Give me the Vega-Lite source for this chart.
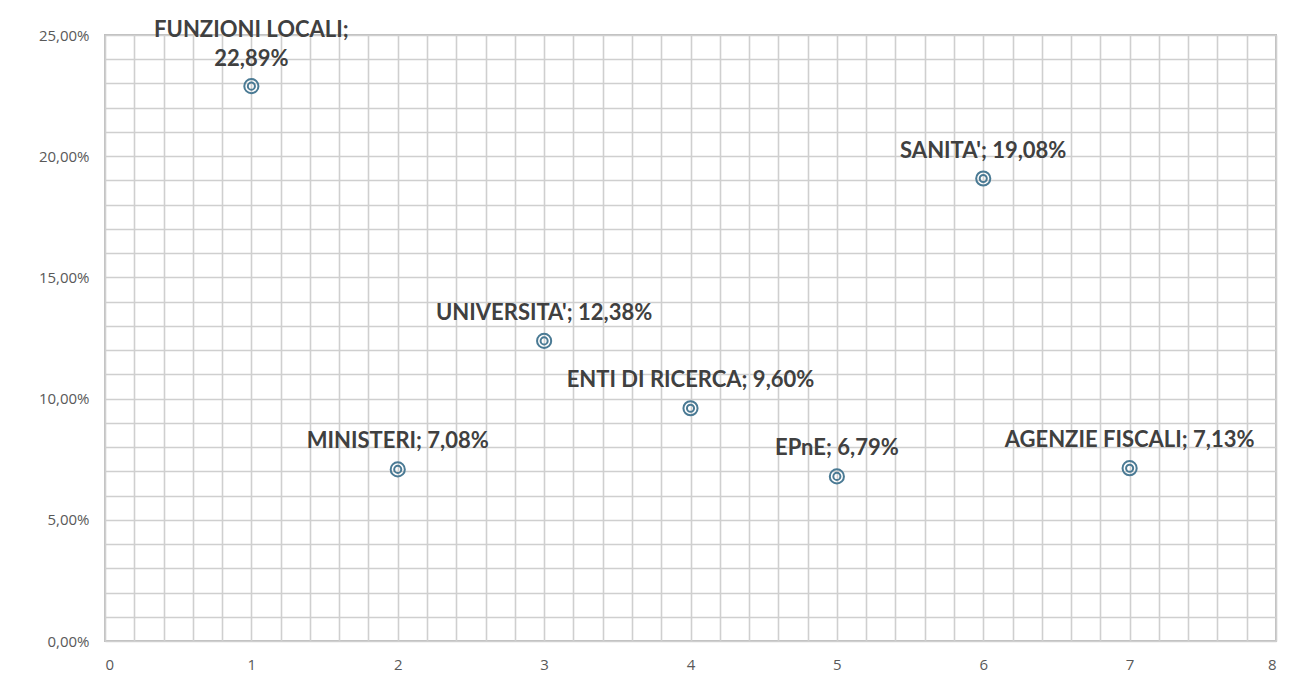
{
  "$schema": "https://vega.github.io/schema/vega-lite/v6.json",
  "width": 1171,
  "height": 606,
  "autosize": {"type": "none"},
  "padding": {"left": 105, "top": 35, "right": 14, "bottom": 42},
  "background": "white",
  "config": {
    "locale": {"number": {"decimal": ",", "thousands": ".", "grouping": [3], "currency": ["€", ""]}},
    "view": {"stroke": "#bfbfbf", "strokeWidth": 2},
    "axis": {"gridColor": "#cfcfcf", "gridWidth": 1.6, "domain": false, "ticks": false, "labelColor": "#595959", "labelFont": "Open Sans", "labelFontSize": 15, "title": null, "labelOverlap": false}
  },
  "data": {"values": [
    {"x": 1, "y": 0.2289, "label": "FUNZIONI LOCALI;\n22,89%", "lines": 2},
    {"x": 2, "y": 0.0708, "label": "MINISTERI; 7,08%", "lines": 1},
    {"x": 3, "y": 0.1238, "label": "UNIVERSITA'; 12,38%", "lines": 1},
    {"x": 4, "y": 0.096, "label": "ENTI DI RICERCA; 9,60%", "lines": 1},
    {"x": 5, "y": 0.0679, "label": "EPnE; 6,79%", "lines": 1},
    {"x": 6, "y": 0.1908, "label": "SANITA'; 19,08%", "lines": 1},
    {"x": 7, "y": 0.0713, "label": "AGENZIE FISCALI; 7,13%", "lines": 1}
  ]},
  "encoding": {
    "x": {"field": "x", "type": "quantitative", "scale": {"domain": [0, 8], "nice": false},
      "axis": {"values": [0,0.2,0.4,0.6,0.8,1,1.2,1.4,1.6,1.8,2,2.2,2.4,2.6,2.8,3,3.2,3.4,3.6,3.8,4,4.2,4.4,4.6,4.8,5,5.2,5.4,5.6,5.8,6,6.2,6.4,6.6,6.8,7,7.2,7.4,7.6,7.8,8],
        "labelExpr": "abs(datum.value - round(datum.value)) < 0.001 ? format(datum.value, 'd') : ''", "labelPadding": 16}},
    "y": {"field": "y", "type": "quantitative", "scale": {"domain": [0, 0.25], "nice": false},
      "axis": {"values": [0,0.01,0.02,0.03,0.04,0.05,0.06,0.07,0.08,0.09,0.1,0.11,0.12,0.13,0.14,0.15,0.16,0.17,0.18,0.19,0.2,0.21,0.22,0.23,0.24,0.25],
        "labelExpr": "abs(datum.value*20 - round(datum.value*20)) < 0.001 ? format(datum.value, '.2%') : ''", "labelPadding": 16}}
  },
  "layer": [
    {"mark": {"type": "point", "shape": "circle", "filled": false, "size": 200, "stroke": "#4a7a94", "strokeWidth": 2, "opacity": 1}},
    {"mark": {"type": "point", "shape": "circle", "filled": false, "size": 50, "stroke": "#4a7a94", "strokeWidth": 2, "opacity": 1}},
    {"transform": [{"filter": "datum.lines == 1"}],
      "mark": {"type": "text", "baseline": "bottom", "align": "center", "dy": -16, "font": "Lato", "fontWeight": "bold", "fontSize": 22, "fill": "#404040"},
      "encoding": {"text": {"field": "label"}}},
    {"transform": [{"filter": "datum.lines == 2"}],
      "mark": {"type": "text", "baseline": "bottom", "align": "center", "dy": -44, "lineBreak": "\n", "lineHeight": 29, "font": "Lato", "fontWeight": "bold", "fontSize": 22, "fill": "#404040"},
      "encoding": {"text": {"field": "label"}}}
  ]
}
